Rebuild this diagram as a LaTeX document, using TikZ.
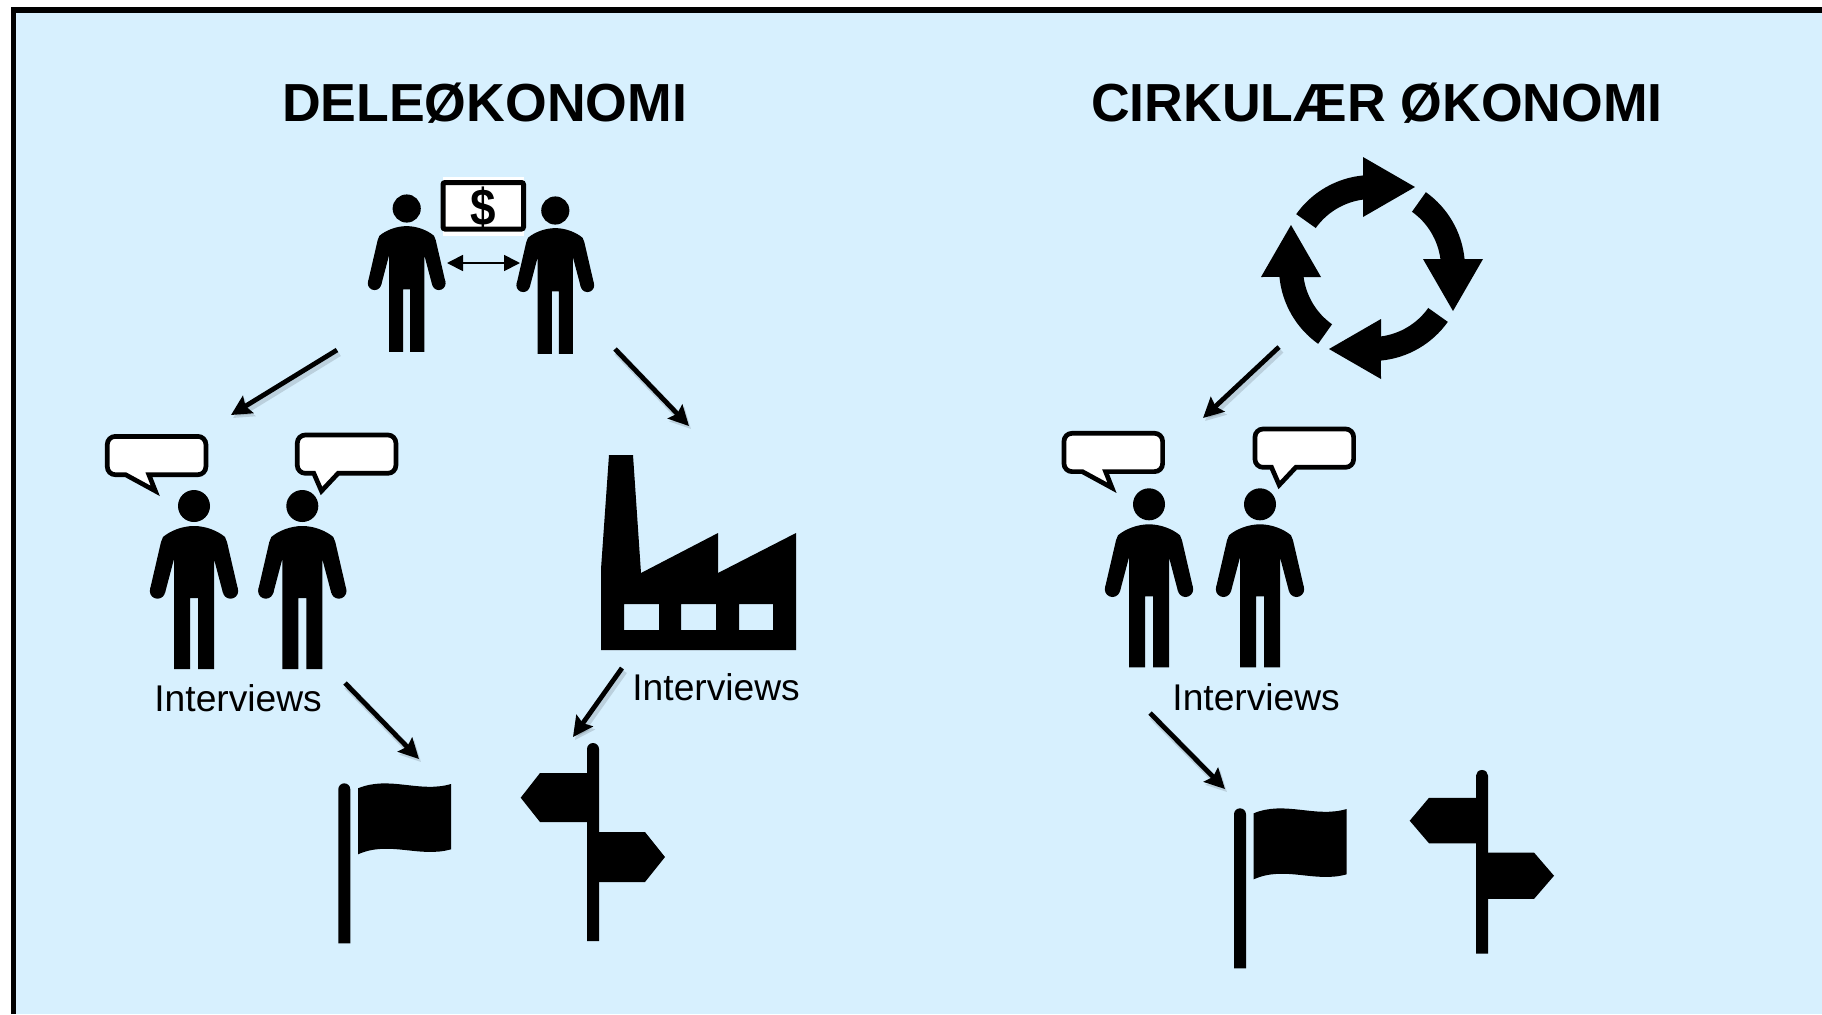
\documentclass[tikz,border=0pt]{standalone}
\usepackage{fontspec}
\setmainfont{Liberation Sans}
\usetikzlibrary{positioning, arrows.meta}
\definecolor{panelblue}{HTML}{D7F0FE}

\begin{document}
\begin{tikzpicture}[x=0.5pt, y=-0.5pt,
  title/.style = {font=\fontsize{26.8}{30}\selectfont\bfseries, anchor=base, inner sep=0pt},
  said/.style = {font=\fontsize{18.6}{22}\selectfont, anchor=base west, inner sep=0pt},
  link/.style = {line width=2.4pt, -{Stealth[length=10pt, width=10pt, inset=1.5pt]},
    preaction={draw=black, opacity=.13, line width=3.5pt, transform canvas={shift={(1pt,-1.5pt)}}}},
  swap/.style = {line width=.9pt, {Triangle[length=8pt, width=8pt]}-{Triangle[length=8pt, width=8pt]}},
  man/.pic = {
    \fill (0,0) circle[radius=16];
    \fill (0,20) .. controls (-12,20) and (-24,25) .. (-31,31) -- (-33,36) -- (-44,83.5) -- (-29,87) -- (-20,53)
      -- (-20,163) -- (-4,163) -- (-4,92) -- (4,92) -- (4,163) -- (20,163) -- (20,53)
      -- (29,87) -- (44,83.5) -- (33,36) -- (31,31) .. controls (24,25) and (12,20) .. (0,20);
    \fill (-36.5,85) circle[radius=7.7];
    \fill (36.5,85) circle[radius=7.7];
  },
  bubbleleft/.pic = {
    \draw[line width=2.35pt, fill=white, miter limit=3, rounded corners=4] (8,38.3) -- (0,38.3) -- (0,0) -- (98.6,0) -- (98.6,38.3) -- (50,38.3)
      [sharp corners] -- (41.6,38.3) -- (48,54.5) -- (18.3,38.3) -- cycle;
  },
  bubbleright/.pic = {
    \draw[line width=2.35pt, fill=white, miter limit=3, rounded corners=4] (8,38.3) -- (0,38.3) -- (0,0) -- (98.6,0) -- (98.6,38.3) -- (50,38.3)
      [sharp corners] -- (40.8,38.3) -- (24.2,56) -- (16.5,38.3) -- cycle;
  },
  flag/.pic = {
    \fill (-6,0) -- (-6,-154) arc[start angle=180, end angle=360, radius=6] -- (6,0) -- cycle;
    \fill (13.7,-155) .. controls (45,-168) and (75,-150) .. (106.7,-159.3) -- (106.7,-94)
      .. controls (75,-85) and (45,-103) .. (13.7,-89) -- cycle;
  },
  signpost/.pic = {
    \fill (-6,0) -- (-6,-192) arc[start angle=180, end angle=360, radius=6] -- (6,0) -- cycle;
    \fill (0,-168) -- (-53,-168) -- (-72.3,-143.3) -- (-53,-119) -- (0,-119) -- cycle;
    \fill (0,-109) -- (52,-109) -- (72,-84) -- (52,-59) -- (0,-59) -- cycle;
  }]
\useasboundingbox (0,0) rectangle (1822,1014);

\fill[panelblue] (13.5,10) rectangle (1822,1014);
\draw[line width=2.6pt, line cap=butt, line join=miter] (13.5,1014) -- (13.5,10) -- (1822,10);

\node[title] (dele) at (484.5,121) {DELEØKONOMI};
\node[title] (cirk) at (1377,121) {CIRKULÆR ØKONOMI};

% top pair with the banknote
\pic[scale=.88] (giver) at (406.7,208.5) {man};
\pic[scale=.88] (taker) at (555.3,210.5) {man};
\fill[white] (443,176.7) rectangle (524,236);
\draw[line width=2.5pt, rounded corners=1pt, fill=white] (443,182.5) rectangle (523.5,229);
\node[font=\fontsize{26}{28}\selectfont\bfseries, xscale=.88, inner sep=0pt] (dollar) at (483,208.5) {\$};
\coordinate (giverhand) at (447,263);
\coordinate (takerhand) at (520,263);
\draw[swap] (giverhand) -- (takerhand);

% interviewed people
\pic (man1) at (194,506) {man};
\pic (man2) at (302.3,506) {man};
\pic at (107.3,436.4) {bubbleleft};
\pic at (297.3,435) {bubbleright};
\pic (man3) at (1149,504.3) {man};
\pic (man4) at (1260,504.3) {man};
\pic at (1064,433.3) {bubbleleft};
\pic at (1255,429) {bubbleright};

\node[said] (said1) at (154,711) {Interviews};
\node[said] (said2) at (632,700) {Interviews};
\node[said] (said3) at (1172,710) {Interviews};

% factory
\fill[even odd rule] (601,650) -- (601,569) -- (609,455) -- (633,455) -- (641,573) -- (718,533) -- (718,573) -- (796,533) -- (796,650) -- cycle
  (624,604) rectangle (659,630) (681,604) rectangle (716,630) (739,604) rectangle (773,630);

% circular arrows
\foreach \turn in {0,90,180,270} {
  \fill[shift={(1372,268)}, rotate=\turn] (215.4:93) arc[start angle=215.4, end angle=264.5, radius=93]
    -- (-9,-111) -- (43,-81) -- (-9,-51) -- (262.5:69) arc[start angle=262.5, end angle=215.4, radius=69] -- cycle;
}

\pic (flag1) at (344.3,943.3) {flag};
\pic (flag2) at (1240,968.3) {flag};
\pic (post1) at (593,941) {signpost};
\pic[yscale=.928] (post2) at (1482,953.7) {signpost};

\coordinate (a1) at (337,350);
\coordinate (b1) at (231,415);
\coordinate (a2) at (615,349);
\coordinate (b2) at (689,426);
\coordinate (a3) at (345,683);
\coordinate (b3) at (419,759);
\coordinate (a4) at (622,668);
\coordinate (b4) at (573,737);
\coordinate (a5) at (1279,347);
\coordinate (b5) at (1203,418);
\coordinate (a6) at (1150,713);
\coordinate (b6) at (1225,789);

\draw[link] (a1) -- (b1);
\draw[link] (a2) -- (b2);
\draw[link] (a3) -- (b3);
\draw[link] (a4) -- (b4);
\draw[link] (a5) -- (b5);
\draw[link] (a6) -- (b6);
\end{tikzpicture}
\end{document}
